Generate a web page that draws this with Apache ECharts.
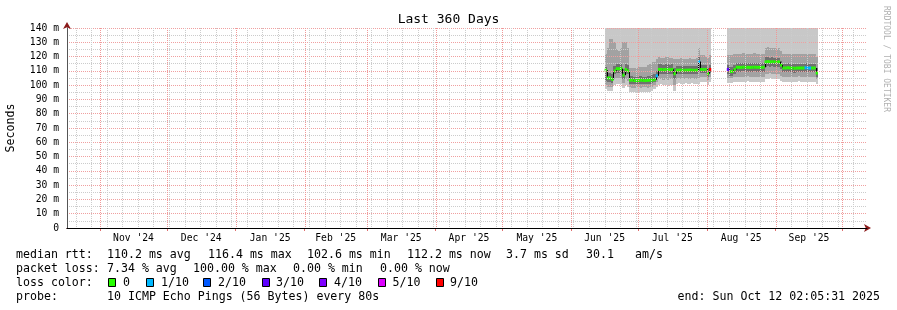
<!DOCTYPE html>
<html><head><meta charset="utf-8">
<script src="https://cdn.jsdelivr.net/npm/echarts@6/dist/echarts.min.js"></script>
<style>html,body{margin:0;padding:0;background:#fff}#c{width:897px;height:310px}</style>
</head><body><div id="c"></div>
<script>
const MONO = '"DejaVu Sans Mono", monospace';
const DAY = 86400000;
const ts = s => Date.parse(s + 'T00:00:00Z');
const END = Date.UTC(2025, 9, 12, 2, 5, 31);
const START = END - 360 * DAY;

// ---- axes / ticks ----
const monthStarts = ['2024-11-01','2024-12-01','2025-01-01','2025-02-01','2025-03-01','2025-04-01','2025-05-01','2025-06-01','2025-07-01','2025-08-01','2025-09-01','2025-10-01'];
const monthLabels = ["Nov '24","Dec '24","Jan '25","Feb '25","Mar '25","Apr '25","May '25","Jun '25","Jul '25","Aug '25","Sep '25"];
const firstWeekLine = '2024-10-21';
const yTicks = [0,10,20,30,40,50,60,70,80,90,100,110,120,130,140];

// ---- section 1: daily samples starting 2025-06-16 ----
const sec1Start = '2025-06-16';
const median1 = [110.5,105,105,104,110,111.5,111.5,111.5,107,111,110,
  103.5,103.5,103.2,103.2,103.4,103.5,103.3,103.2,103.4,103.5,103.6,103.8,
  106.5, 111,111,110.8,111,111,110.8,111, 108,
  110.5,110.5,110.6,110.4,110.5,110.5,110.6,110.5,110.4,110.5,
  116.5, 111,111,111, 108, 111];
const lo1_1 = [97,96,96,96,100,101,101,100.5,98,100,99,
  95.5,95,95,95.5,95.5,95,95.5,95.5,95,95.5,96,97,
  99, 100,100.5,100,100,99.5,100,100, 96,
  101,101.5,101,101,101.5,101,101,101.5,101,101,
  101, 102,102,102, 100, 102];
const lo2_1 = [100,99,99,99,104,105,105,104.5,101.5,104,103,
  98.5,98,98,98.5,98.5,98,98.5,98.5,98,98.5,99,100,
  102, 104,104,103.5,104,103.5,104,104, 100,
  104.5,105,104.5,104.5,105,104.5,104.5,105,104.5,104.5,
  105, 105.5,105.5,105.5, 103.5, 105.5];
const lo3_1 = [103,102,102,101.5,107.5,108.5,108.5,108.5,104.5,108,107.5,
  101,101,100.5,101,101,100.5,101,101,100.5,101,101.5,102,
  104, 108,108,107.5,108,108,107.5,108, 104.5,
  107.5,108,107.5,107.5,108,107.5,107.5,108,107.5,107.5,
  109, 108.5,108.5,108.5, 105.5, 108.5];
const hi3_1 = [113,108.5,108.5,107.5,113.5,115,115,115,111,114.5,114,
  106.5,106.5,106,106,106.5,106.5,106,106,106.5,106.5,107,107.5,
  110, 114.5,114.5,114,114.5,114.5,114,114.5, 112,
  113.5,113.5,113.5,113.5,113.5,113.5,113.5,113.5,113.5,113.5,
  120, 114,114,114, 112, 114];
const hi2_1 = [122,126,132,132,130,125,124,126,130,130,126,
  112,112,112,112,112.5,112.5,113,113,114,115,116,116.5,
  118, 120,119,119,120,119.5,119,119, 118,
  118.5,118.5,119,118.5,118,118.5,119,118.5,118.5,119,
  126, 121,121,120, 119, 121];
const hi1_1 = Array(48).fill(140);
const loss1 = [0,0,0,0,0,0,0,0,0,0,0, 0,0,0,0,0,0,0,0,0,0,0,0, 1, 0,0,0,0,0,0,0, 0,
  0,0,0,0,0,0,0,0,0,0, 1, 0,0,0, 0, 9];

// ---- section 2: daily samples starting 2025-08-10 ----
const sec2Start = '2025-08-10';
const median2 = [111,109.5,109.5,111,
  112.5,112.5,112.4,112.6,112.5,112.5,112.4,112.5,112.6,112.5,112.5,112.4,112.5,
  116.3,116.5,116.3,116.4,116.3,116.2,116.3, 114,
  112,112,112.2,112,112,111.8,112,112,112,112,112.2,112,112,112,112, 108.5];
const lo1_2 = [101.5,101.5,101.5,102,
  102.5,102.5,102,102.5,102.5,103,102.5,102.5,102.5,102,102.5,102.5,102.5,
  104.5,104.5,105,104.5,104.5,104,104.5, 103,
  102.5,102.5,102.5,102,102.5,102.5,102.5,103,102.5,102.5,102.5,102,102.5,102.5,102.5, 101];
const lo2_2 = [105,105,105,105.5,
  106,106,105.5,106,106,106.5,106,106,106,105.5,106,106,106,
  108,108,108.5,108,108,107.5,108, 106.5,
  106,106,106,105.5,106,106,106,106.5,106,106,106,105.5,106,106,106, 104.5];
const lo3_2 = [108,106.5,106.5,108,
  109.5,109.5,109.4,109.6,109.5,109.5,109.4,109.5,109.6,109.5,109.5,109.4,109.5,
  113,113.5,113,113.2,113,113,113, 111,
  109,109,109.2,109,109,108.8,109,109,109,109,109.2,109,109,109,109, 105.5];
const hi3_2 = [114,112.5,112.5,114,
  115.5,115.5,115.4,115.6,115.5,115.5,115.4,115.5,115.6,115.5,115.5,115.4,115.5,
  119.5,119.5,119.3,119.4,119.3,119.2,119.3, 117,
  115,115,115.2,115,115,114.8,115,115,115,115,115.2,115,115,115,115, 112];
const hi2_2 = [121,121,121,121.5,
  122,122,122,122.5,122,122,122,122,122.5,122,122,122,122,
  126,126.5,126,126,126,125.5,126, 124,
  121.5,121.5,121.5,121.5,122,121.5,121.5,121.5,121.5,121.5,121.5,121.5,121.5,121.5,121.5, 120];
const hi1_2 = Array(41).fill(140);
const loss2 = [3,0,0,0, 0,0,0,0,0,0,0,0,0,0,0,0,0, 0,0,0,0,0,0,0, 0,
  0,0,0,0,0,0,0,0,0,0,1,1,1,0,0, 0];

const lossColors = ['#26ff00','#00b8ff','#0059ff','#5e00ff','#7e00ff','#dd00ff','#dd00ff','#dd00ff','#dd00ff','#ff0000','#ff0000'];
const legendLoss = [['#26ff00','0'],['#00b8ff','1/10'],['#0059ff','2/10'],['#5e00ff','3/10'],['#7e00ff','4/10'],['#dd00ff','5/10'],['#ff0000','9/10']];

// ---- build rows ----
function buildRows(startStr, med, lo1, lo2, lo3, hi3, hi2, hi1, loss) {
  const t0 = ts(startStr);
  return med.map((m, i) => [t0 + i * DAY, lo1[i], lo2[i], lo3[i], m, hi3[i], hi2[i], hi1[i], i === 0 ? null : med[i-1], loss[i]]);
}
const rows = buildRows(sec1Start, median1, lo1_1, lo2_1, lo3_1, hi3_1, hi2_1, hi1_1, loss1)
  .concat(buildRows(sec2Start, median2, lo1_2, lo2_2, lo3_2, hi3_2, hi2_2, hi1_2, loss2));

const monthTs = monthStarts.map(ts);
const labelTs = monthLabels.map((l, i) => (monthTs[i] + monthTs[i+1]) / 2);
const labelMap = {}; labelTs.forEach((v, i) => labelMap[v] = monthLabels[i]);
const weekTs = []; for (let t = ts(firstWeekLine); t < END; t += 7 * DAY) weekTs.push(t);

const SMOKE = ['#c8c8c8', '#a2a2a2', '#707070', '#707070', '#a2a2a2', '#c8c8c8'];

function renderSmoke(params, api) {
  const r = rows[params.dataIndex];
  const x0 = Math.round(api.coord([r[0], 0])[0]);
  const x1 = Math.round(api.coord([r[0] + DAY, 0])[0]);
  const children = [];
  for (let k = 0; k < 6; k++) {
    const ya = Math.round(api.coord([r[0], r[1 + k]])[1]);
    const yb = Math.round(api.coord([r[0], r[2 + k]])[1]);
    children.push({type: 'rect', shape: {x: x0, y: yb, width: x1 - x0, height: ya - yb}, style: {fill: SMOKE[k]}});
  }
  return {type: 'group', children};
}
function renderMedian(params, api) {
  const r = rows[params.dataIndex];
  const x0 = api.coord([r[0], 0])[0];
  const x1 = api.coord([r[0] + DAY, 0])[0];
  const y = api.coord([r[0], r[4]])[1];
  const children = [];
  if (r[8] !== null && r[8] !== r[4]) {
    const yp = api.coord([r[0], r[8]])[1];
    children.push({type: 'line', shape: {x1: Math.round(x0) + 0.5, y1: yp, x2: Math.round(x0) + 0.5, y2: y}, style: {stroke: '#000', lineWidth: 1}});
  }
  children.push({type: 'rect', shape: {x: x0, y: y - 1.5, width: x1 - x0, height: 3}, style: {fill: lossColors[r[9]]}});
  return {type: 'group', children};
}
function gridRenderer(color) {
  return function (params, api) {
    const t = api.value(0);
    const x = Math.round(api.coord([t, 0])[0]) + 0.5;
    const yTop = Math.round(api.coord([t, 140])[1]);
    const yBot = Math.round(api.coord([t, 0])[1]);
    return {type: 'line', shape: {x1: x, y1: yTop, x2: x, y2: yBot}, style: {stroke: color, lineWidth: 1, lineDash: [1, 1]}};
  };
}

const redGrid = {color: '#f0a0a0', type: [1, 1], width: 1};
const grayGrid = {color: '#cccccc', type: [1, 1], width: 1};
const xBase = {type: 'value', min: START, max: END, position: 'bottom', axisLabel: {show: false}, axisTick: {show: false}, axisLine: {show: false}, splitLine: {show: false}};

const graphics = [];
const T = (text, x, y, extra) => graphics.push(Object.assign({type: 'text', x, y, style: Object.assign({text, fill: '#000', font: '11.6px ' + MONO, verticalAlign: 'middle'}, extra || {})}));
T('median rtt:', 16, 255); T('110.2 ms avg', 107, 255); T('116.4 ms max', 208, 255); T('102.6 ms min', 307, 255);
T('112.2 ms now', 407, 255); T('3.7 ms sd', 506, 255); T('30.1', 586, 255); T('am/s', 635, 255);
T('packet loss:', 16, 269); T('7.34 % avg', 107, 269); T('100.00 % max', 193, 269); T('0.00 % min', 293, 269); T('0.00 % now', 380, 269);
T('loss color:', 16, 283);
const boxX = [108, 146, 203, 262, 319, 378, 436];
const boxLabelX = [123, 161, 218, 276, 334, 392.5, 450];
legendLoss.forEach((l, i) => {
  graphics.push({type: 'rect', shape: {x: boxX[i] + 0.5, y: 278.5, width: 7, height: 8}, style: {fill: l[0], stroke: '#000', lineWidth: 1}});
  T(l[1], boxLabelX[i], 283);
});
T('probe:', 16, 297); T('10 ICMP Echo Pings (56 Bytes) every 80s', 107, 297);
T('end: Sun Oct 12 02:05:31 2025', 880, 297, {align: 'right'});
graphics.push({type: 'text', x: 886, y: 59, rotation: -Math.PI / 2, style: {text: 'RRDTOOL / TOBI OETIKER', fill: '#b0b0b0', font: '8px ' + MONO, align: 'center', verticalAlign: 'middle'}});

const chart = echarts.init(document.getElementById('c'), null, {renderer: 'canvas'});
chart.setOption({
  animation: false,
  backgroundColor: '#fff',
  title: {text: 'Last 360 Days', left: 'center', top: 13, padding: 0, textStyle: {fontFamily: MONO, fontSize: 13, fontWeight: 'normal', color: '#000'}},
  grid: {left: 67, right: 30, top: 28, bottom: 82, containLabel: false, outerBoundsMode: 'none'},
  xAxis: [
    Object.assign({}, xBase, {z: 4, axisTick: {show: true, customValues: monthTs, length: 3, inside: false, lineStyle: {color: '#e07070'}},
      axisLine: {show: true, symbol: ['none', 'arrow'], symbolSize: [6, 7], symbolOffset: [0, 4], lineStyle: {color: '#8b1a1a', width: 1}}}),
    Object.assign({}, xBase, {z: 5, axisLine: {show: true, lineStyle: {color: '#000', width: 1}},
      axisLabel: {show: true, customValues: labelTs, margin: 5, fontFamily: MONO, fontSize: 9.7, color: '#000', formatter: v => labelMap[v] || ''}})
  ],
  yAxis: [
    {type: 'value', min: 0, max: 140, interval: 10, z: 3,
      axisLabel: {fontFamily: MONO, fontSize: 9.7, color: '#000', margin: 8, formatter: v => v === 0 ? '0' : v + ' m'},
      axisTick: {show: false}, minorTick: {show: false, splitNumber: 2},
      splitLine: {show: true, lineStyle: redGrid}, minorSplitLine: {show: true, lineStyle: grayGrid},
      axisLine: {show: true, symbol: ['none', 'arrow'], symbolSize: [6, 7], symbolOffset: [0, 6], lineStyle: {color: '#8b1a1a', width: 1}},
      name: 'Seconds', nameLocation: 'middle', nameRotate: 90, nameGap: 50, nameTextStyle: {fontFamily: MONO, fontSize: 11.6, color: '#000'}},
    {type: 'value', min: 0, max: 140, interval: 10, z: 5, position: 'left', axisLabel: {show: false}, axisTick: {show: false}, splitLine: {show: false},
      axisLine: {show: true, lineStyle: {color: '#555', width: 1}}}
  ],
  series: [
    {type: 'custom', name: 'smoke', xAxisIndex: 1, yAxisIndex: 0, clip: true, z: 1, renderItem: renderSmoke, data: rows, encode: {x: 0, y: [1, 7]}},
    {type: 'custom', name: 'median', xAxisIndex: 1, yAxisIndex: 0, clip: true, z: 2, renderItem: renderMedian, data: rows, encode: {x: 0, y: 4}},
    {type: 'custom', name: 'weekGrid', xAxisIndex: 1, yAxisIndex: 0, z: 3, silent: true, renderItem: gridRenderer('#cccccc'), data: weekTs.map(t => [t]), encode: {x: 0}},
    {type: 'custom', name: 'monthGrid', xAxisIndex: 1, yAxisIndex: 0, z: 4, silent: true, renderItem: gridRenderer('#f09898'), data: monthTs.map(t => [t]), encode: {x: 0}}
  ],
  graphic: graphics
});
</script></body></html>
